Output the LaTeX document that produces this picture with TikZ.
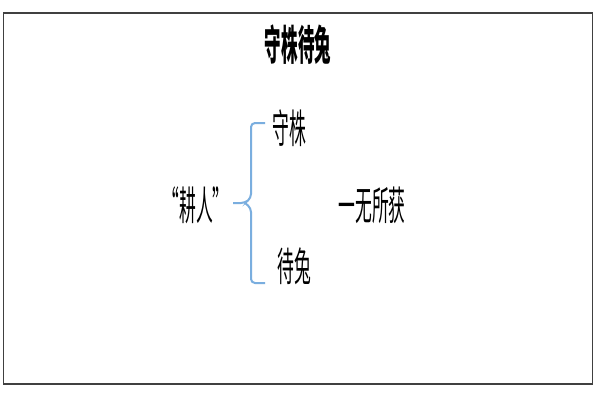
\documentclass[tikz,border=0pt]{standalone}
\usepackage{fontspec}
\newfontfamily\cjk{Noto Sans CJK SC}
\definecolor{bracecol}{HTML}{7AAEDF}
\begin{document}
\begin{tikzpicture}[x=0.75pt,y=-0.75pt,
  lbl/.style={inner sep=0pt,font=\cjk\fontsize{30}{30}\selectfont},
  ttl/.style={inner sep=0pt,font=\cjk\bfseries\fontsize{31}{31}\selectfont},
  brc/.style={draw=bracecol,line width=1.5pt,rounded corners=3pt}]
\useasboundingbox (0,0) rectangle (600,400);
\fill[white] (0,0) rectangle (600,400);
\draw[black!75,line width=1.2pt] (3.5,13) rectangle (592.5,384);
\node[ttl] (title) at (298,45) {\scalebox{0.4}[1]{守株待兔}};
\node[lbl] (geng) at (196,205) {\scalebox{0.42}[1]{“耕人”}};
\node[lbl] (shou) at (289,128) {\scalebox{0.42}[1]{守株}};
\node[lbl] (dai) at (294,266) {\scalebox{0.42}[1]{待兔}};
\node[lbl] (wu) at (372,205) {\scalebox{0.42}[1]{一无所获}};
\coordinate (btop) at (265,123);
\coordinate (bmid) at (233,203);
\coordinate (bbot) at (265,283);
\draw[brc] (btop) -- (251,123) -- (251,198) -- (245,203) -- (bmid);
\draw[brc] (245,203) -- (251,208) -- (251,283) -- (bbot);
\end{tikzpicture}
\end{document}
